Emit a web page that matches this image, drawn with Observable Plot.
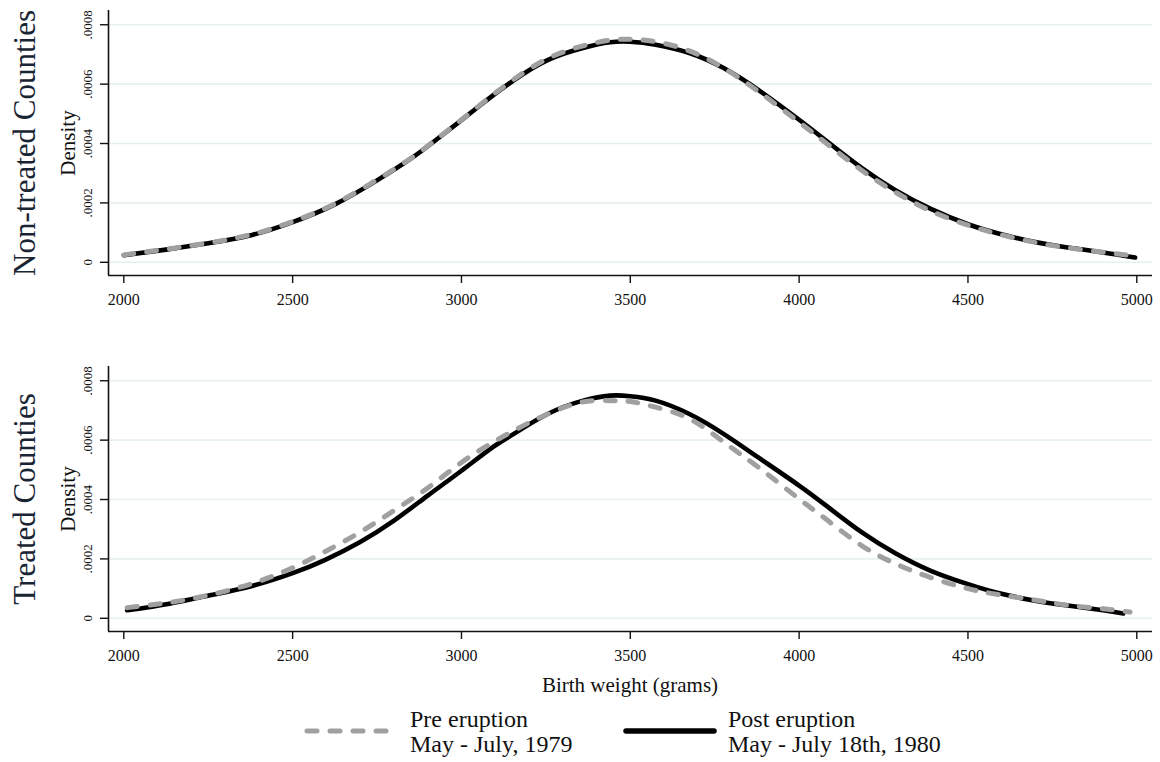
<!DOCTYPE html>
<html><head><meta charset="utf-8">
<script src="https://cdn.jsdelivr.net/npm/d3@7"></script>
<script src="https://cdn.jsdelivr.net/npm/@observablehq/plot@0.6"></script>
<style>
body{margin:0;background:#fff;font-family:"Liberation Serif","Times New Roman",serif;color:#111;}
#wrap{position:relative;width:1160px;height:762px;overflow:hidden;}
.panel{position:absolute;left:0;}
.lg{position:absolute;font-size:24px;line-height:25px;white-space:nowrap;color:#111;}
.sw{position:absolute;}
#xlab{position:absolute;left:108px;width:1044px;text-align:center;font-size:21px;top:672px;line-height:26px;}
</style></head><body><div id="wrap">
<div id="p1" class="panel" style="top:0"></div>
<div id="p2" class="panel" style="top:356px"></div>
<div id="xlab">Birth weight (grams)</div>
<svg class="sw" style="left:298px;top:719px" width="100" height="24"><line x1="9" y1="12" x2="88" y2="12" stroke="#a0a0a0" stroke-width="5" stroke-dasharray="10,13" stroke-linecap="round"/></svg>
<div class="lg" style="left:410px;top:707px">Pre eruption<br>May - July, 1979</div>
<svg class="sw" style="left:618px;top:719px" width="105" height="24"><line x1="8" y1="12" x2="96" y2="12" stroke="#000" stroke-width="5.5" stroke-linecap="round"/></svg>
<div class="lg" style="left:728px;top:707px">Post eruption<br>May - July 18th, 1980</div>
</div>
<script>
// Tick values
const xTicks = [2000, 2500, 3000, 3500, 4000, 4500, 5000];
const yTicks = [0, 0.0002, 0.0004, 0.0006, 0.0008];

// Non-treated counties (top panel)
const nonTreatedWeights = [2000, 2125, 2250, 2380, 2500, 2625, 2750, 2850, 2930, 3000, 3075, 3155, 3255, 3360, 3440, 3500, 3575, 3675, 3775, 3880, 4000, 4085, 4185, 4285, 4390, 4500, 4590, 4695, 4795, 4900, 4995];
const nonTreatedPost = [0.0000236, 0.0000427, 0.0000640, 0.0000920, 0.000135, 0.000195, 0.000276, 0.000349, 0.000417, 0.000479, 0.000546, 0.000613, 0.000681, 0.000722, 0.000741, 0.000743, 0.000733, 0.000705, 0.000655, 0.000580, 0.000480, 0.000405, 0.000318, 0.000243, 0.000180, 0.000128, 0.000097, 0.000069, 0.000050, 0.000033, 0.000016];
const nonTreatedPre = [0.000025, 0.000044, 0.000065, 0.000094, 0.000137, 0.000197, 0.000278, 0.000350, 0.000418, 0.000480, 0.000548, 0.000616, 0.000686, 0.000729, 0.000748, 0.000751, 0.000743, 0.000712, 0.000655, 0.000575, 0.000472, 0.000397, 0.000310, 0.000236, 0.000173, 0.000125, 0.000095, 0.000068, 0.000049, 0.000034, 0.000021];

// Treated counties (bottom panel)
const treatedPostWeights = [2010, 2135, 2255, 2380, 2500, 2595, 2700, 2800, 2900, 3000, 3085, 3155, 3255, 3360, 3440, 3500, 3575, 3675, 3775, 3880, 4000, 4085, 4185, 4285, 4390, 4500, 4590, 4695, 4795, 4900, 4960];
const treatedPost = [0.0000269, 0.0000493, 0.0000773, 0.000109, 0.000152, 0.000196, 0.000257, 0.000329, 0.000413, 0.000497, 0.000570, 0.000621, 0.000688, 0.000733, 0.000750, 0.000748, 0.000733, 0.000688, 0.000622, 0.000541, 0.000447, 0.000375, 0.000290, 0.000219, 0.000160, 0.000115, 0.000085, 0.000060, 0.000043, 0.000027, 0.000016];
const treatedPreWeights = [2010, 2135, 2255, 2380, 2500, 2595, 2700, 2800, 2900, 3000, 3085, 3155, 3255, 3360, 3440, 3500, 3575, 3675, 3775, 3880, 4000, 4085, 4185, 4285, 4390, 4500, 4590, 4695, 4795, 4900, 4980];
const treatedPre = [0.0000359, 0.000053, 0.000079, 0.000117, 0.000170, 0.000224, 0.000290, 0.000363, 0.000439, 0.000525, 0.000587, 0.000632, 0.000688, 0.000729, 0.000733, 0.000730, 0.000711, 0.000672, 0.000595, 0.000508, 0.000402, 0.000329, 0.000245, 0.000184, 0.000137, 0.000100, 0.000080, 0.000062, 0.000044, 0.000032, 0.000021];

const xDomain = [1954.7, 5046.5];
const yDomain = [-0.0000445, 0.000848];
const fmtY = d => d === 0 ? "0" : d.toFixed(4).replace(/^0/, "");
const toRows = (ws, vs) => ws.map((w, i) => ({w, v: vs[i]}));

function panel(title, preW, pre, postW, post) {
  return Plot.plot({
    width: 1160, height: 320,
    marginLeft: 108, marginRight: 8, marginTop: 10, marginBottom: 45,
    style: {fontFamily: '"Liberation Serif","Times New Roman",serif', color: "#111", background: "white", overflow: "visible"},
    x: {domain: xDomain},
    y: {domain: yDomain},
    marks: [
      Plot.ruleY(yTicks, {stroke: "#e6eff1", strokeWidth: 1.6}),
      Plot.line(toRows(postW, post), {x: "w", y: "v", stroke: "#000", strokeWidth: 4.6, curve: "natural", strokeLinecap: "round", strokeLinejoin: "round"}),
      Plot.line(toRows(preW, pre), {x: "w", y: "v", stroke: "#a0a0a0", strokeWidth: 5, strokeDasharray: "10,13", curve: "natural", strokeLinecap: "round", strokeLinejoin: "round"}),
      Plot.ruleX([xDomain[0]], {stroke: "#111", strokeWidth: 1.6}),
      Plot.ruleY([yDomain[0]], {stroke: "#111", strokeWidth: 1.6}),
      Plot.axisX({ticks: xTicks, tickSize: 8, tickPadding: 10, fontSize: 16, tickFormat: d => String(d), label: null, strokeWidth: 1.4}),
      Plot.axisY({ticks: yTicks, tickSize: 8, tickFormat: () => "", label: null, strokeWidth: 1.4}),
      Plot.text(yTicks, {y: d => d, text: fmtY, frameAnchor: "left", dx: -17, rotate: -90, textAnchor: "middle", lineAnchor: "bottom", fontSize: 13}),
      Plot.text(["Density"], {frameAnchor: "left", dx: -34, rotate: -90, textAnchor: "middle", lineAnchor: "bottom", fontSize: 21}),
      Plot.text([title], {frameAnchor: "left", dx: -74, rotate: -90, textAnchor: "middle", lineAnchor: "bottom", fontSize: 31, fill: "#1a2533"})
    ]
  });
}

document.getElementById("p1").appendChild(panel("Non-treated Counties", nonTreatedWeights, nonTreatedPre, nonTreatedWeights, nonTreatedPost));
document.getElementById("p2").appendChild(panel("Treated Counties", treatedPreWeights, treatedPre, treatedPostWeights, treatedPost));
</script>
</body></html>
